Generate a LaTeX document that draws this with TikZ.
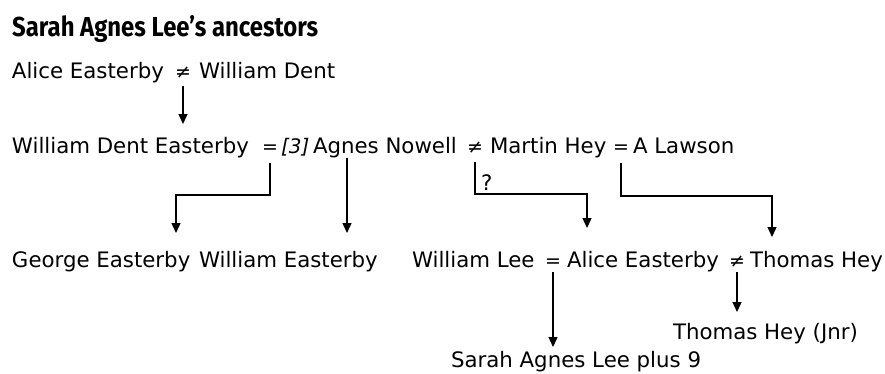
\documentclass[tikz,border=0pt]{standalone}
\usepackage{fontspec}
\setmainfont{DejaVu Sans}
\newfontfamily\titlefont{Fira Sans}
\usetikzlibrary{arrows.meta,calc}
\begin{document}
\begin{tikzpicture}[x=1pt,y=-1pt,
  txt/.style={anchor=base west,inner sep=0pt,outer sep=0pt,font=\fontsize{21.3}{25}\selectfont},
  sym/.style={anchor=base,inner sep=0pt,outer sep=0pt,font=\fontsize{19}{22}\selectfont},
  link/.style={line width=1.3pt,-{Triangle[length=10pt,width=9pt]}}]
\fill[white] (0,0) rectangle (885,373);
\useasboundingbox (0,0) rectangle (885,373);
% title
\node[anchor=base west,inner sep=0pt] (title) at (12,36)
  {\resizebox{306pt}{21pt}{\titlefont\bfseries Sarah Agnes Lee’s ancestors}};
% row 1
\node[txt] (ae1) at (12,78) {Alice Easterby};
\node[sym] (ne1) at (183,78) {≠};
\node[txt] (wd) at (199,78) {William Dent};
% row 2
\node[txt] (wde) at (12,153) {William Dent Easterby};
\node[sym] (eq2) at (270,153) {=};
\node[txt,font=\fontsize{20}{22}\selectfont\itshape] (n3) at (281,153) {[3]};
\node[txt] (an) at (313,153) {Agnes Nowell};
\node[sym] (ne2) at (475,153) {≠};
\node[txt] (mh) at (490,153) {Martin Hey};
\node[sym] (eq3) at (621,153) {=};
\node[txt] (al) at (633,153) {A Lawson};
% row 3
\node[txt] (ge) at (12,267) {George Easterby};
\node[txt] (we) at (199,267) {William Easterby};
\node[txt] (wl) at (412,267) {William Lee};
\node[sym] (eq4) at (553,267) {=};
\node[txt] (ae2) at (567,267) {Alice Easterby};
\node[sym] (ne3) at (737,267) {≠};
\node[txt] (th) at (750,267) {Thomas Hey};
% row 4
\node[txt] (jnr) at (673,339) {Thomas Hey (Jnr)};
\node[txt] (sarah) at (451,367) {Sarah Agnes Lee plus 9};
% connectors
\draw[link] ($(ne1.base)+(0,8)$) -- ($(ne1.base |- wde.base)+(0,-29)$);
\draw[link] ($(eq2.base)+(0,10)$) -- ($(eq2.base)+(0,42)$) -| ($(ge.base west)+(164,-34)$);
\draw[link] ($(an.base west)+(34,5)$) -- ($(an.base west |- we.base)+(34,-34)$);
\draw[link] ($(ne2.base)+(0,9)$) -- ($(ne2.base)+(0,41)$) -| ($(wl.base west)+(175,-39)$);
\node[txt] (q) at (481,190) {?};
\draw[link] ($(eq3.base)+(0,10)$) -- ($(eq3.base)+(0,43)$) -| ($(th.base west)+(22,-30)$);
\draw[link] ($(eq4.base)+(0,5)$) -- ($(eq4.base |- sarah.base)+(0,-20)$);
\draw[link] ($(ne3.base)+(0,5)$) -- ($(ne3.base |- jnr.base)+(0,-27)$);
\end{tikzpicture}
\end{document}
